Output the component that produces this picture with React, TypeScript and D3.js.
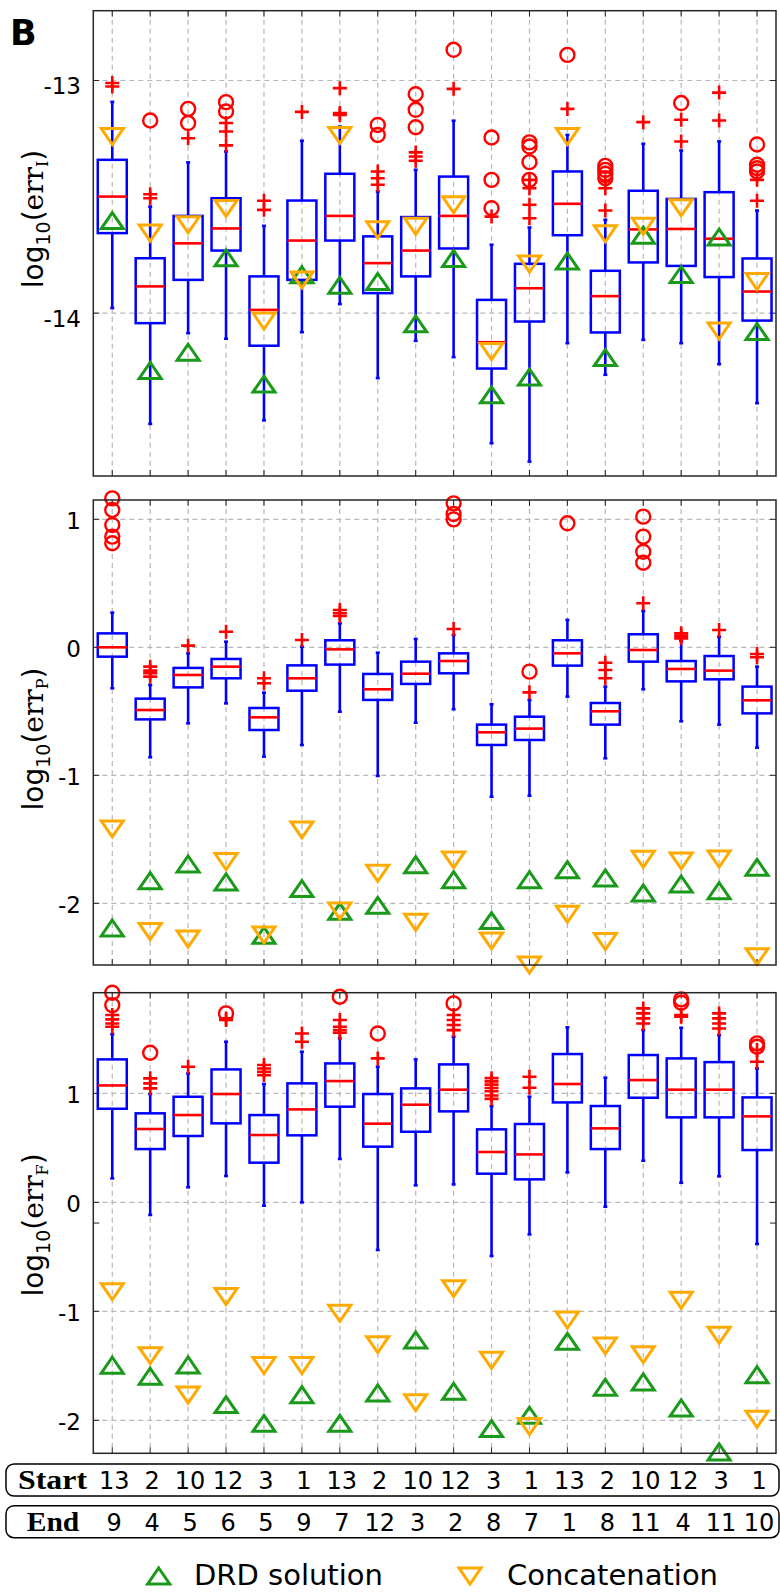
import * as d3 from 'd3'

const W = 780
const H = 1593

const START = [13, 2, 10, 12, 3, 1, 13, 2, 10, 12, 3, 1, 13, 2, 10, 12, 3, 1]
const END = [9, 4, 5, 6, 5, 9, 7, 12, 3, 2, 8, 7, 1, 8, 11, 4, 11, 10]

// --- log10(err_I)
const I_WLO = [-13.978, -14.476, -14.086, -14.11, -14.461, -14.082, -13.961, -14.279, -14.119, -14.189, -14.559, -14.638, -14.129, -14.265, -14.115, -14.129, -14.219, -14.387]
const I_Q1 = [-13.656, -14.043, -13.857, -13.731, -14.14, -13.857, -13.688, -13.914, -13.842, -13.722, -14.238, -14.036, -13.665, -14.083, -13.782, -13.797, -13.845, -14.032]
const I_MED = [-13.499, -13.885, -13.7, -13.636, -13.986, -13.688, -13.582, -13.785, -13.731, -13.582, -14.125, -13.893, -13.53, -13.927, -13.64, -13.638, -13.68, -13.907]
const I_Q3 = [-13.341, -13.764, -13.582, -13.506, -13.842, -13.516, -13.401, -13.67, -13.587, -13.413, -13.943, -13.788, -13.391, -13.818, -13.474, -13.509, -13.48, -13.765]
const I_WHI = [-13.092, -13.542, -13.352, -13.305, -13.625, -13.259, -13.198, -13.477, -13.384, -13.173, -13.706, -13.632, -13.234, -13.599, -13.272, -13.301, -13.262, -13.559]
const I_PLUS = [[-13.011, -13.026], [-13.489, -13.506], [-13.248], [-13.183, -13.219, -13.279], [-13.517, -13.556], [-13.135], [-13.033, -13.14, -13.148], [-13.391, -13.42, -13.448], [-13.309, -13.327, -13.345], [-13.036], [-13.585], [-13.427, -13.463, -13.534, -13.592], [-13.122], [-13.434, -13.463, -13.559], [-13.179], [-13.169, -13.262], [-13.052, -13.172], [-13.427, -13.517]]
const I_CIRC = [[], [-13.172], [-13.122, -13.183], [-13.093, -13.133], [], [], [], [-13.191, -13.234], [-13.059, -13.126, -13.201], [-12.868], [-13.245, -13.427, -13.549], [-13.266, -13.284, -13.351, -13.427], [-12.89], [-13.367, -13.384, -13.401, -13.42], [], [-13.097], [], [-13.275, -13.362, -13.377, -13.391]]
const I_DRD = [-13.602, -14.246, -14.168, -13.762, -14.305, -13.835, -13.88, -13.864, -14.046, -13.765, -14.351, -14.275, -13.776, -14.191, -13.665, -13.834, -13.673, -14.079]
const I_CAT = [-13.241, -13.656, -13.62, -13.55, -14.034, -13.857, -13.236, -13.642, -13.627, -13.534, -14.165, -13.789, -13.241, -13.659, -13.627, -13.547, -14.077, -13.864]

// --- log10(err_P)
const P_WLO = [-0.32, -0.859, -0.594, -0.438, -0.854, -0.763, -0.503, -1.005, -0.589, -0.484, -1.167, -1.159, -0.385, -0.867, -0.328, -0.578, -0.604, -0.784]
const P_Q1 = [-0.073, -0.563, -0.313, -0.242, -0.646, -0.339, -0.135, -0.411, -0.286, -0.203, -0.763, -0.724, -0.143, -0.604, -0.112, -0.266, -0.25, -0.516]
const P_MED = [0.0, -0.49, -0.216, -0.151, -0.547, -0.242, -0.016, -0.328, -0.206, -0.107, -0.664, -0.635, -0.047, -0.5, -0.021, -0.169, -0.182, -0.414]
const P_Q3 = [0.109, -0.401, -0.161, -0.091, -0.474, -0.141, 0.055, -0.208, -0.112, -0.047, -0.604, -0.542, 0.055, -0.435, 0.102, -0.107, -0.068, -0.307]
const P_WHI = [0.271, -0.294, -0.047, 0.044, -0.354, 0.005, 0.188, -0.042, 0.065, 0.096, -0.445, -0.411, 0.214, -0.307, 0.284, 0.052, 0.083, -0.151]
const P_PLUS = [[], [-0.151, -0.182, -0.203, -0.229], [0.013], [0.122], [-0.242, -0.281], [0.057], [0.292, 0.266, 0.245], [], [], [0.143], [], [-0.352], [], [-0.12, -0.177, -0.242], [0.344], [0.109, 0.091, 0.07], [0.135], [-0.052, -0.078]]
const P_CIRC = [[1.164, 1.073, 0.956, 0.865, 0.813], [], [], [], [], [], [], [], [], [1.125, 1.042, 1.0], [], [-0.19], [0.969], [], [1.021, 0.865, 0.747, 0.661], [], [], []]
const P_DRD = [-2.193, -1.823, -1.693, -1.833, -2.25, -1.885, -2.063, -2.016, -1.698, -1.815, -2.135, -1.815, -1.737, -1.802, -1.919, -1.849, -1.901, -1.719]
const P_CAT = [-1.419, -2.221, -2.279, -1.674, -2.247, -1.427, -2.06, -1.766, -2.148, -1.661, -2.294, -2.482, -2.086, -2.299, -1.656, -1.669, -1.654, -2.417]

// --- log10(err_F)
const F_WLO = [0.22, -0.116, 0.138, 0.242, -0.031, 0.0, 0.398, -0.437, 0.156, 0.165, -0.492, -0.294, 0.275, -0.04, 0.382, 0.18, 0.239, -0.382]
const F_Q1 = [0.859, 0.489, 0.609, 0.725, 0.364, 0.615, 0.878, 0.511, 0.648, 0.835, 0.263, 0.211, 0.917, 0.489, 0.96, 0.78, 0.78, 0.48]
const F_MED = [1.073, 0.673, 0.801, 0.994, 0.618, 0.853, 1.113, 0.722, 0.896, 1.034, 0.462, 0.44, 1.086, 0.679, 1.122, 1.034, 1.034, 0.789]
const F_Q3 = [1.312, 0.817, 0.969, 1.22, 0.801, 1.092, 1.275, 0.994, 1.046, 1.266, 0.67, 0.719, 1.361, 0.884, 1.352, 1.321, 1.287, 0.963]
const F_WHI = [1.544, 0.994, 1.183, 1.474, 1.086, 1.382, 1.505, 1.245, 1.312, 1.52, 0.884, 0.969, 1.606, 1.144, 1.581, 1.602, 1.535, 1.229]
const F_PLUS = [[1.719, 1.679, 1.642, 1.612], [1.138, 1.092, 1.046], [1.245], [1.688, 1.673], [1.26, 1.229, 1.199, 1.168], [1.55, 1.474], [1.673, 1.612, 1.581, 1.557], [1.321], [], [1.719, 1.673, 1.627, 1.581], [1.14, 1.11, 1.08, 1.05, 1.02, 0.98, 0.95], [1.153, 1.052], [], [], [1.78, 1.734, 1.688, 1.642], [1.719, 1.703], [1.734, 1.688, 1.642, 1.596], [1.398, 1.291]]
const F_CIRC = [[1.924, 1.81], [1.373], [], [1.734], [], [], [1.887], [1.55], [], [1.826], [], [], [], [], [], [1.862, 1.832], [], [1.459, 1.428]]
const F_DRD = [-1.495, -1.596, -1.492, -1.856, -2.028, -1.765, -2.028, -1.749, -1.263, -1.734, -2.076, -1.954, -1.275, -1.697, -1.648, -1.887, -2.29, -1.581]
const F_CAT = [-0.82, -1.407, -1.768, -0.865, -1.498, -1.498, -1.018, -1.306, -1.838, -0.792, -1.45, -2.058, -1.08, -1.318, -1.398, -0.899, -1.22, -1.991]

const BLUE = '#0000ff'
const RED = '#ff0000'
const GREEN = '#1a991a'
const ORANGE = '#ffaa00'
const GRID = '#b8b8b8'
const FRAME = '#262626'
const SANS = 'DejaVu Sans'
const SERIF = 'DejaVu Serif'

const LEFT = 93.3
const RIGHT = 776

const x = d3.scaleLinear().domain([0.5, START.length + 0.5]).range([LEFT, RIGHT])
const cols = d3.range(1, START.length + 1)

const TW = 11 // triangle half width
const TH = 8 // triangle half height
const triUp = (cx: number, cy: number) =>
  `M${cx},${cy - TH}L${cx + TW},${cy + TH}L${cx - TW},${cy + TH}Z`
const triDown = (cx: number, cy: number) =>
  `M${cx - TW},${cy - TH}L${cx + TW},${cy - TH}L${cx},${cy + TH}Z`

interface PanelProps {
  sub: string
  top: number
  bottom: number
  domain: [number, number]
  ticks: number[]
  extraTicks?: number[]
  labelShift: number
  titleY: number
  wlo: number[]
  q1: number[]
  med: number[]
  q3: number[]
  whi: number[]
  plus: number[][]
  circ: number[][]
  drd: number[]
  cat: number[]
}

function Panel(p: PanelProps) {
  const y = d3.scaleLinear().domain(p.domain).range([p.bottom, p.top])
  const bw = 14.5
  const tk = 6
  return (
    <g>
      {/* grid */}
      {cols.map(c => (
        <line key={'gv' + c} x1={x(c)} x2={x(c)} y1={p.top} y2={p.bottom}
          stroke={GRID} strokeWidth={1.2} strokeDasharray="5,4" />
      ))}
      {p.ticks.map(t => (
        <line key={'gh' + t} x1={LEFT} x2={RIGHT} y1={y(t)} y2={y(t)}
          stroke={GRID} strokeWidth={1.2} strokeDasharray="5,4" />
      ))}
      {/* ticks */}
      {cols.map(c => (
        <g key={'tx' + c} stroke={FRAME} strokeWidth={1}>
          <line x1={x(c)} x2={x(c)} y1={p.top} y2={p.top + tk} />
          <line x1={x(c)} x2={x(c)} y1={p.bottom} y2={p.bottom - tk} />
        </g>
      ))}
      {[...p.ticks, ...(p.extraTicks || [])].map(t => (
        <g key={'ty' + t} stroke={FRAME} strokeWidth={1}>
          <line x1={LEFT} x2={LEFT + tk} y1={y(t)} y2={y(t)} />
          <line x1={RIGHT} x2={RIGHT - tk} y1={y(t)} y2={y(t)} />
        </g>
      ))}
      {p.ticks.map(t => (
        <text key={'tl' + t} x={81} y={y(t) + p.labelShift + 8.4} textAnchor="end"
          fontFamily={SANS} fontSize={23} fill="#000">{t}</text>
      ))}
      {/* boxes */}
      {cols.map((c, i) => {
        const cx = x(c)
        return (
          <g key={'b' + c}>
            <line x1={cx} x2={cx} y1={y(p.q3[i])} y2={y(p.whi[i])} stroke={BLUE} strokeWidth={2.6} />
            <line x1={cx} x2={cx} y1={y(p.q1[i])} y2={y(p.wlo[i])} stroke={BLUE} strokeWidth={2.6} />
            <line x1={cx - 2} x2={cx + 2} y1={y(p.whi[i])} y2={y(p.whi[i])} stroke={BLUE} strokeWidth={2.6} />
            <line x1={cx - 2} x2={cx + 2} y1={y(p.wlo[i])} y2={y(p.wlo[i])} stroke={BLUE} strokeWidth={2.6} />
            <rect x={cx - bw} width={bw * 2} y={y(p.q3[i])} height={y(p.q1[i]) - y(p.q3[i])}
              fill="none" stroke={BLUE} strokeWidth={2.5} />
            <line x1={cx - bw} x2={cx + bw} y1={y(p.med[i])} y2={y(p.med[i])} stroke={RED} strokeWidth={2.6} />
          </g>
        )
      })}
      {/* outliers */}
      {cols.map((c, i) => (
        <g key={'o' + c} stroke={RED} fill="none">
          {p.plus[i].map((v, j) => (
            <path key={'p' + j} d={`M${x(c) - 7},${y(v)}H${x(c) + 7}M${x(c)},${y(v) - 7}V${y(v) + 7}`} strokeWidth={2.6} />
          ))}
          {p.circ[i].map((v, j) => (
            <circle key={'c' + j} cx={x(c)} cy={y(v)} r={7} strokeWidth={2.4} />
          ))}
        </g>
      ))}
      {/* DRD and concatenation */}
      {cols.map((c, i) => (
        <path key={'d' + c} d={triUp(x(c), y(p.drd[i]))} fill="none" stroke={GREEN} strokeWidth={3} />
      ))}
      {cols.map((c, i) => (
        <path key={'k' + c} d={triDown(x(c), y(p.cat[i]))} fill="none" stroke={ORANGE} strokeWidth={3} />
      ))}
      <rect x={LEFT} y={p.top} width={RIGHT - LEFT} height={p.bottom - p.top}
        fill="none" stroke={FRAME} strokeWidth={1.5} />
      {/* y title */}
      <text transform={`translate(43,${p.titleY}) rotate(-90)`} textAnchor="middle"
        fontFamily={SANS} fontSize={28} fill="#000">
        <tspan>log</tspan>
        <tspan fontSize={19} dy={7}>10</tspan>
        <tspan dy={-7}>(</tspan>
        <tspan fontFamily={SERIF}>err</tspan>
        <tspan fontFamily={SERIF} fontSize={16} dy={5}>{p.sub}</tspan>
        <tspan dy={-5}>)</tspan>
      </text>
    </g>
  )
}

function TableRow({ label, values, top, base, labelX, labelW }: {
  label: string; values: number[]; top: number; base: number; labelX: number; labelW: number
}) {
  return (
    <g>
      <rect x={6} y={top} width={773} height={32} rx={8} fill="#fff" stroke="#000" strokeWidth={1.5} />
      <text x={labelX} y={base} fontFamily="Liberation Serif" fontWeight="bold" fontSize={28}
        textLength={labelW} lengthAdjust="spacingAndGlyphs" fill="#000">{label}</text>
      {values.map((v, i) => (
        <text key={i} x={x(i + 1) + 2} y={base} textAnchor="middle" fontFamily={SANS}
          fontSize={24} fill="#000">{v}</text>
      ))}
    </g>
  )
}

export default function App() {
  return (
    <svg width={W} height={H} style={{ position: 'absolute', left: 0, top: 0, background: '#fff' }}>
      <rect width={W} height={H} fill="#fff" />
      <text x={10} y={45} fontFamily={SANS} fontWeight="bold" fontSize={35} fill="#000">B</text>
      <Panel sub="I" top={10.7} bottom={476} domain={[-14.7, -12.7]} ticks={[-13, -14]}
        labelShift={5} titleY={219}
        wlo={I_WLO} q1={I_Q1} med={I_MED} q3={I_Q3} whi={I_WHI}
        plus={I_PLUS} circ={I_CIRC} drd={I_DRD} cat={I_CAT} />
      <Panel sub="P" top={500} bottom={965} domain={[-2.482, 1.151]} ticks={[1, 0, -1, -2]}
        labelShift={1} titleY={739}
        wlo={P_WLO} q1={P_Q1} med={P_MED} q3={P_Q3} whi={P_WHI}
        plus={P_PLUS} circ={P_CIRC} drd={P_DRD} cat={P_CAT} />
      <Panel sub="F" top={992.7} bottom={1453.3} domain={[-2.303, 1.924]} ticks={[1, 0, -1, -2]}
        extraTicks={[-0.19]} labelShift={1} titleY={1225}
        wlo={F_WLO} q1={F_Q1} med={F_MED} q3={F_Q3} whi={F_WHI}
        plus={F_PLUS} circ={F_CIRC} drd={F_DRD} cat={F_CAT} />
      <TableRow label="Start" values={START} top={1464} base={1489.3} labelX={18} labelW={69} />
      <TableRow label="End" values={END} top={1505.7} base={1531} labelX={26.7} labelW={52.6} />
      {/* legend */}
      <path d={triUp(158.7, 1576)} fill="none" stroke={GREEN} strokeWidth={3} />
      <text x={194} y={1585} fontFamily={SANS} fontSize={29} fill="#000">DRD solution</text>
      <path d={triDown(470, 1576)} fill="none" stroke={ORANGE} strokeWidth={3} />
      <text x={507} y={1585} fontFamily={SANS} fontSize={29} fill="#000">Concatenation</text>
    </svg>
  )
}
